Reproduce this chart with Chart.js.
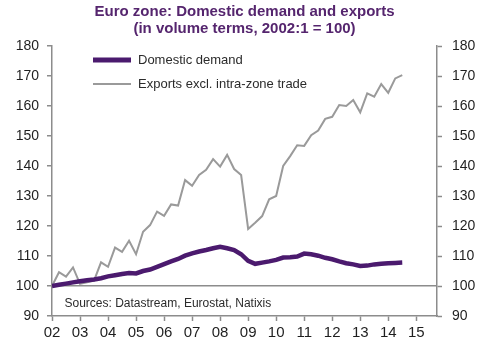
<!DOCTYPE html>
<html>
<head>
<meta charset="utf-8">
<script src="https://cdn.jsdelivr.net/npm/chart.js@4.4.1/dist/chart.umd.min.js"></script>
<style>
    body { margin: 0; background: #fff; }
    #wrap { width: 500px; height: 350px; }
</style>
</head>
<body>
<div id="wrap"><canvas id="euroChart" width="500" height="350"></canvas></div>
<script>
// quarterly, 2002Q1 .. 2014Q3
const quarters = [];
for (let y = 2002; y <= 2014; y++) {
    for (let q = 1; q <= 4; q++) {
        if (y === 2014 && q > 3) break;
        quarters.push(y + 'Q' + q);
    }
}

const domesticDemand = [
    100.0, 100.4, 100.8, 101.2, 101.6, 101.9, 102.2, 102.6, 103.2, 103.6,
    104.0, 104.3, 104.2, 105.0, 105.5, 106.4, 107.3, 108.2, 109.0, 110.1,
    110.9, 111.5, 112.0, 112.6, 113.1, 112.6, 112.0, 110.6, 108.4, 107.4,
    107.8, 108.2, 108.7, 109.5, 109.6, 109.8, 110.8, 110.6, 110.1, 109.4,
    108.9, 108.2, 107.6, 107.2, 106.7, 106.8, 107.2, 107.4, 107.6, 107.7,
    107.8
];

const exportsExtraZone = [
    100.0, 104.6, 103.1, 106.2, 100.7, 101.2, 101.8, 107.9, 106.4, 112.8,
    111.4, 115.1, 110.6, 118.1, 120.3, 124.8, 123.4, 127.2, 126.8, 135.3,
    133.4, 137.0, 138.7, 142.3, 139.8, 143.7, 139.0, 137.0, 119.0, 121.1,
    123.3, 128.9, 130.0, 140.0, 143.3, 146.9, 146.7, 150.3, 151.8, 155.7,
    156.4, 160.3, 160.0, 162.0, 157.9, 164.2, 163.1, 167.3, 164.4, 169.2,
    170.3
];

const yearTicks = [2002, 2003, 2004, 2005, 2006, 2007, 2008, 2009, 2010, 2011, 2012, 2013, 2014, 2015];
const yearLabels = ['02', '03', '04', '05', '06', '07', '08', '09', '10', '11', '12', '13', '14', '15'];

function quarterToX(label) {
    const year = parseInt(label.slice(0, 4), 10);
    const q = parseInt(label.slice(5), 10);
    return year + (q - 1) / 4;
}

function toPoints(values) {
    return values.map((v, i) => ({ x: quarterToX(quarters[i]), y: v }));
}

const axisGrey = '#8c8c8c';
const textColor = '#1f1f1f';

Chart.defaults.font.family = '"Liberation Sans", Arial, sans-serif';

// legend inside the plot + source note
const overlay = {
    id: 'overlay',
    afterDraw(chart) {
        const ctx = chart.ctx;
        const a = chart.chartArea;
        ctx.save();
        ctx.font = '13px "Liberation Sans", Arial, sans-serif';
        ctx.textBaseline = 'middle';
        chart.data.datasets.forEach((ds, i) => {
            const y = a.top + 14 + i * 24;
            ctx.strokeStyle = ds.borderColor;
            ctx.lineWidth = ds.legendWidth;
            ctx.lineCap = 'butt';
            ctx.beginPath();
            ctx.moveTo(a.left + 41, y);
            ctx.lineTo(a.left + 79, y);
            ctx.stroke();
            ctx.fillStyle = '#2b2b2b';
            ctx.fillText(ds.label, a.left + 86, y);
        });
        ctx.font = '12px "Liberation Sans", Arial, sans-serif';
        ctx.fillStyle = '#2b2b2b';
        ctx.fillText('Sources: Datastream, Eurostat, Natixis', a.left + 12.5, a.bottom - 12);
        ctx.restore();
    }
};

const yTickStyle = { stepSize: 10, color: textColor, font: { size: 14 } };

new Chart(document.getElementById('euroChart').getContext('2d'), {
    type: 'line',
    data: {
        datasets: [{
            label: 'Domestic demand',
            data: toPoints(domesticDemand),
            borderColor: '#4b1a6e',
            borderWidth: 4.5,
            legendWidth: 5,
            pointRadius: 0,
            tension: 0
        }, {
            label: 'Exports excl. intra-zone trade',
            data: toPoints(exportsExtraZone),
            borderColor: '#9a9a9a',
            borderWidth: 2,
            legendWidth: 2,
            pointRadius: 0,
            tension: 0
        }]
    },
    options: {
        responsive: false,
        animation: false,
        layout: { padding: 0 },
        plugins: {
            legend: { display: false },
            tooltip: { enabled: false },
            title: {
                display: true,
                fullSize: false,
                text: ['Euro zone: Domestic demand and exports', '(in volume terms, 2002:1 = 100)'],
                color: '#55256e',
                font: { size: 15, weight: 'bold', lineHeight: 1.1 },
                padding: { top: 4, bottom: 9 }
            }
        },
        scales: {
            x: {
                type: 'linear',
                min: 2002,
                max: 2015.74,
                afterBuildTicks: s => { s.ticks = yearTicks.map(v => ({ value: v })); },
                afterFit: s => { s.height = 34; },
                ticks: {
                    callback: (v, i) => yearLabels[i],
                    color: textColor,
                    font: { size: 15 },
                    padding: 3,
                    maxRotation: 0,
                    autoSkip: false
                },
                grid: { drawOnChartArea: false, tickLength: 5, tickColor: axisGrey, tickWidth: 1.5 },
                border: { color: axisGrey, width: 1.5 }
            },
            y: {
                position: 'left',
                min: 90,
                max: 180,
                afterFit: s => { s.width = 52; },
                ticks: { ...yTickStyle, padding: 8 },
                grid: {
                    color: c => (c.tick && c.tick.value === 100) ? axisGrey : 'rgba(0,0,0,0)',
                    lineWidth: 1.5,
                    tickColor: axisGrey,
                    tickLength: 5,
                    tickWidth: 1.5
                },
                border: { color: axisGrey, width: 1.5 }
            },
            y2: {
                position: 'right',
                min: 90,
                max: 180,
                afterFit: s => { s.width = 63; },
                ticks: { ...yTickStyle, padding: 10 },
                grid: { drawOnChartArea: false, tickColor: axisGrey, tickLength: 5, tickWidth: 1.5 },
                border: { color: axisGrey, width: 1.5 }
            }
        }
    },
    plugins: [overlay]
});
</script>
</body>
</html>
